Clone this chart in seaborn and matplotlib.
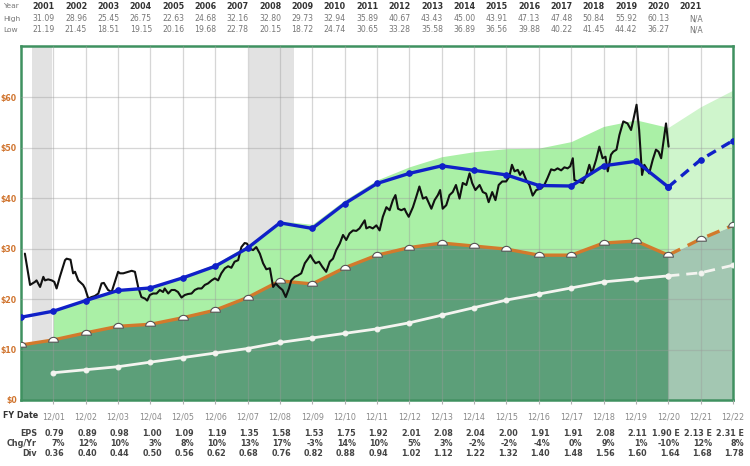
import numpy as np
import pandas as pd
import seaborn as sns
import matplotlib
matplotlib.use("Agg")
import matplotlib.pyplot as plt
from matplotlib import transforms
from matplotlib.path import Path

# ---------------- data ----------------
table_years = list(range(2001, 2022))
high = ["31.09", "28.96", "25.45", "26.75", "22.63", "24.68", "32.16", "32.80", "29.73", "32.94",
        "35.89", "40.67", "43.43", "45.00", "43.91", "47.13", "47.48", "50.84", "55.92", "60.13", "N/A"]
low = ["21.19", "21.45", "18.51", "19.15", "20.16", "19.68", "22.78", "20.15", "18.72", "24.74",
       "30.65", "33.28", "35.58", "36.89", "36.56", "39.88", "40.22", "41.45", "44.42", "36.27", "N/A"]

fy_years = list(range(2001, 2023))
fy_labels = ["12/01", "12/02", "12/03", "12/04", "12/05", "12/06", "12/07", "12/08", "12/09", "12/10", "12/11",
             "12/12", "12/13", "12/14", "12/15", "12/16", "12/17", "12/18", "12/19", "12/20", "12/21", "12/22"]
eps_txt = ["0.79", "0.89", "0.98", "1.00", "1.09", "1.19", "1.35", "1.58", "1.53", "1.75", "1.92",
           "2.01", "2.08", "2.04", "2.00", "1.91", "1.91", "2.08", "2.11", "1.90 E", "2.13 E", "2.31 E"]
chg_txt = ["7%", "12%", "10%", "3%", "8%", "10%", "13%", "17%", "-3%", "14%", "10%",
           "5%", "3%", "-2%", "-2%", "-4%", "0%", "9%", "1%", "-10%", "12%", "8%"]
div_txt = ["0.36", "0.40", "0.44", "0.50", "0.56", "0.62", "0.68", "0.76", "0.82", "0.88", "0.94",
           "1.02", "1.12", "1.22", "1.32", "1.40", "1.48", "1.56", "1.60", "1.64", "1.68", "1.78"]

# yearly series (x = fiscal year end, 2000..2022)
line_years = list(range(2000, 2023))
normal_pe = [16.4, 17.6, 19.7, 21.7, 22.2, 24.2, 26.5, 30.1, 35.1, 34.0, 38.9, 42.9,
             44.9, 46.4, 45.5, 44.6, 42.5, 42.4, 46.4, 47.3, 42.2, 47.6, 51.4]
eps_15 = [10.9, 11.9, 13.3, 14.6, 15.0, 16.3, 17.8, 20.3, 23.6, 23.0, 26.2, 28.7,
          30.2, 31.1, 30.5, 29.9, 28.7, 28.7, 31.1, 31.5, 28.7, 31.9, 34.6]
# years 2001..2022
upper_band = [17.8, 20.0, 22.0, 22.5, 24.5, 27.0, 30.7, 35.5, 34.8, 39.6, 43.6,
              46.2, 48.2, 49.2, 49.8, 49.9, 51.2, 54.2, 55.5, 54.0, 58.1, 61.4]
div_15 = [5.4, 6.0, 6.6, 7.5, 8.4, 9.3, 10.2, 11.4, 12.3, 13.2, 14.1,
          15.3, 16.8, 18.3, 19.8, 21.0, 22.2, 23.4, 24.0, 24.6, 25.2, 26.7]

price_x = [2000.12, 2000.28, 2000.43, 2000.48, 2000.59, 2000.69, 2000.74, 2000.84, 2000.95, 2001.03,
           2001.10, 2001.20, 2001.36, 2001.41, 2001.53, 2001.61, 2001.67, 2001.77, 2001.92, 2001.98,
           2002.08, 2002.18, 2002.28, 2002.39, 2002.49, 2002.56, 2002.69, 2002.80, 2002.90, 2003.00,
           2003.06, 2003.16, 2003.26, 2003.42, 2003.52, 2003.62, 2003.72, 2003.83, 2003.90, 2003.98,
           2004.08, 2004.19, 2004.29, 2004.39, 2004.44, 2004.55, 2004.65, 2004.75, 2004.85, 2004.96,
           2005.06, 2005.16, 2005.27, 2005.37, 2005.47, 2005.58, 2005.68, 2005.78, 2005.89, 2005.99,
           2006.09, 2006.19, 2006.30, 2006.40, 2006.50, 2006.60, 2006.71, 2006.81, 2006.91, 2006.98,
           2007.07, 2007.17, 2007.27, 2007.38, 2007.48, 2007.58, 2007.69, 2007.79, 2007.87, 2007.97,
           2008.08, 2008.18, 2008.28, 2008.35, 2008.46, 2008.56, 2008.66, 2008.77, 2008.87, 2008.94,
           2009.02, 2009.10, 2009.21, 2009.31, 2009.43, 2009.54, 2009.64, 2009.74, 2009.85, 2009.95,
           2010.05, 2010.15, 2010.26, 2010.36, 2010.46, 2010.62, 2010.67, 2010.77, 2010.87, 2010.98,
           2011.08, 2011.18, 2011.29, 2011.39, 2011.49, 2011.57, 2011.65, 2011.75, 2011.85, 2011.90,
           2011.98, 2012.11, 2012.21, 2012.31, 2012.42, 2012.52, 2012.68, 2012.78, 2012.88, 2012.95,
           2013.03, 2013.14, 2013.24, 2013.34, 2013.44, 2013.55, 2013.65, 2013.76, 2013.86, 2013.94,
           2014.04, 2014.17, 2014.27, 2014.37, 2014.45, 2014.56, 2014.66, 2014.76, 2014.87, 2014.99,
           2015.09, 2015.17, 2015.25, 2015.35, 2015.42, 2015.50, 2015.61, 2015.71, 2015.81, 2015.92,
           2016.07, 2016.17, 2016.27, 2016.38, 2016.48, 2016.58, 2016.69, 2016.79, 2016.89, 2016.97,
           2017.05, 2017.10, 2017.20, 2017.36, 2017.46, 2017.56, 2017.64, 2017.77, 2017.87, 2017.97,
           2018.06, 2018.13, 2018.23, 2018.30, 2018.40, 2018.49, 2018.61, 2018.74, 2018.85, 2018.92,
           2019.02, 2019.10, 2019.19, 2019.26, 2019.33, 2019.41, 2019.52, 2019.62, 2019.70, 2019.78,
           2019.93, 2020.01]
price_y = [29.0, 22.8, 23.4, 23.7, 22.4, 24.4, 23.7, 23.9, 23.7, 23.4,
           22.1, 24.4, 27.7, 28.0, 27.8, 25.1, 25.4, 23.7, 22.8, 22.1,
           20.1, 20.4, 20.6, 21.1, 23.1, 23.2, 21.8, 21.4, 23.4, 25.4,
           25.1, 25.1, 25.3, 25.6, 25.4, 22.4, 20.4, 20.1, 19.7, 20.8,
           21.1, 21.1, 21.8, 21.4, 22.1, 21.1, 21.8, 21.8, 21.4, 20.3,
           20.8, 21.0, 21.1, 21.8, 22.1, 22.1, 22.8, 23.1, 23.7, 24.1,
           23.7, 25.1, 26.1, 26.5, 26.2, 27.4, 27.7, 30.3, 31.1, 31.0,
           30.0, 29.7, 30.3, 29.0, 27.1, 25.9, 26.1, 22.4, 23.1, 22.4,
           21.8, 20.4, 22.1, 23.7, 24.4, 24.7, 25.1, 27.1, 28.0, 28.7,
           27.8, 27.1, 27.4, 26.4, 25.4, 27.4, 28.0, 29.7, 31.0, 32.7,
           31.7, 33.0, 33.6, 33.5, 34.0, 35.6, 34.0, 34.3, 34.0, 34.6,
           33.6, 36.3, 38.2, 37.6, 39.6, 40.6, 37.9, 37.6, 37.9, 37.2,
           36.3, 38.2, 40.2, 42.3, 39.9, 40.2, 37.9, 39.6, 40.6, 41.6,
           37.9, 38.6, 40.6, 41.2, 42.6, 39.9, 43.0, 42.6, 44.9, 43.0,
           41.6, 42.6, 41.2, 40.9, 39.2, 41.2, 39.6, 42.6, 43.3, 43.3,
           44.3, 46.6, 45.3, 45.6, 44.6, 45.3, 43.6, 42.6, 40.5, 41.6,
           41.9, 42.6, 44.0, 45.7, 45.5, 45.9, 45.5, 46.1, 45.9, 46.3,
           47.9, 43.6, 43.3, 43.0, 44.3, 46.6, 44.9, 47.6, 50.2, 47.9,
           48.2, 45.3, 48.6, 49.2, 49.6, 52.5, 55.2, 54.8, 53.5, 55.5,
           58.5, 53.5, 44.6, 46.6, 45.9, 44.9, 47.6, 49.6, 49.2, 47.9,
           54.8, 50.2]

recessions = [(2000.34, 2000.96), (2007.03, 2008.45)]
y_ticks = [0, 10, 20, 30, 40, 50, 60]
y_labels = ["$0", "$10", "$20", "$30", "$40", "$50", "$60"]

# ---------------- figure ----------------
sns.set_theme(style="white")
plt.rcParams["font.family"] = ["DejaVu Sans"]
W, H = 750, 466
fig = plt.figure(figsize=(W / 100, H / 100), dpi=100)
L, R, T, B = 21, 733, 45.7, 400
ax = fig.add_axes([L / W, 1 - B / H, (R - L) / W, (B - T) / H])

FC = 2020  # forecast start index helpers
iF = line_years.index(FC)
jF = fy_years.index(FC)

dark = "#5c9f79"
dark_f = "#a3c7b2"
light = "#aaf0a6"
light_f = "#cff5cc"

for a, b in recessions:
    ax.axvspan(a, b, color="#e2e2e2", zorder=0.5, lw=0)

# dark green (15x EPS) area
ax.fill_between(line_years[:iF + 1], 0, eps_15[:iF + 1], color=dark, lw=0, zorder=1.2)
ax.fill_between(line_years[iF:], 0, eps_15[iF:], color=dark_f, lw=0, zorder=1.2)
# light green band
o1 = eps_15[1:]
ax.fill_between(fy_years[:jF + 1], o1[:jF + 1], upper_band[:jF + 1], color=light, lw=0, zorder=1.1)
ax.fill_between(fy_years[jF:], o1[jF:], upper_band[jF:], color=light_f, lw=0, zorder=1.1)

# grid on top of fills
ax.set_axisbelow(False)
ax.grid(True, color="#9a9a9a", alpha=0.4, lw=0.9)

# semicircle marker
th = np.linspace(0, np.pi, 18)
verts = np.column_stack([np.cos(th), np.sin(th) - 0.35])
verts = np.vstack([verts, verts[:1]])
dome = Path(verts, closed=True)

df_line = pd.DataFrame({"x": line_years, "pe": normal_pe, "e15": eps_15})
df_fy = pd.DataFrame({"x": fy_years, "d15": div_15})
hist = df_line[df_line.x <= FC]
fcst = df_line[df_line.x >= FC]
hist_d = df_fy[df_fy.x <= FC]
fcst_d = df_fy[df_fy.x >= FC]

# white dividend line
sns.lineplot(data=hist_d, x="x", y="d15", ax=ax, color="#f4f4f0", lw=2, marker="o", ms=3.5,
             markeredgecolor="#f4f4f0", zorder=4)
sns.lineplot(data=fcst_d, x="x", y="d15", ax=ax, color="#f4f4f0", lw=2, ls=(0, (4, 2.5)), marker="o",
             ms=3.5, markeredgecolor="#f4f4f0", zorder=4)
# orange EPS line
sns.lineplot(data=hist, x="x", y="e15", ax=ax, color="#d27a2c", lw=2.4, zorder=4)
sns.lineplot(data=fcst, x="x", y="e15", ax=ax, color="#d27a2c", lw=2.4, ls=(0, (4, 2.5)), zorder=4)
ax.plot(line_years, eps_15, ls="none", marker=dome, ms=7, mfc="white", mec="#555555", mew=0.8, zorder=5)
# price
sns.lineplot(x=price_x, y=price_y, ax=ax, color="#111111", lw=1.5, zorder=6, sort=False)
# blue normal PE line
sns.lineplot(data=hist, x="x", y="pe", ax=ax, color="#1020c8", lw=2.4, marker="o", ms=4,
             markeredgecolor="#1020c8", zorder=7)
sns.lineplot(data=fcst, x="x", y="pe", ax=ax, color="#1020c8", lw=2.4, ls=(0, (3, 2)), marker="o", ms=4,
             markeredgecolor="#1020c8", zorder=7)

ax.set_xlim(2000, 2022)
ax.set_ylim(0, 70.2)
ax.set_xlabel("")
ax.set_ylabel("")

for s in ax.spines.values():
    s.set_color("#3f9160")
    s.set_linewidth(1.8)
    s.set_visible(True)

ax.set_yticks(y_ticks)
ax.set_yticklabels(y_labels, color="#d0742e", fontsize=5.6, fontweight="bold")
off = transforms.ScaledTranslation(0, 3.2 / 72, fig.dpi_scale_trans)
for lab in ax.get_yticklabels():
    lab.set_transform(lab.get_transform() + off)
ax.tick_params(axis="y", length=0, pad=3)

ax.set_xticks(fy_years)
ax.set_xticklabels(fy_labels, color="#8a8a8a", fontsize=5.8)
ax.tick_params(axis="x", length=3, color="#b0b0b0", direction="out", pad=6, width=0.8, bottom=True)

# ---------- text tables ----------
def fy(px):
    return 1 - px / H

tr_x = transforms.blended_transform_factory(ax.transData, fig.transFigure)

fig.text(3 / W, fy(415), "FY Date", fontsize=5.8, fontweight="bold", color="#333333", va="center")

# top table
fig.text(3 / W, fy(6.5), "Year", fontsize=5.4, color="#777777", va="center")
fig.text(3 / W, fy(18.5), "High", fontsize=5.4, color="#777777", va="center")
fig.text(3 / W, fy(30), "Low", fontsize=5.4, color="#777777", va="center")
for i, yr in enumerate(table_years):
    xc = yr - 0.3
    fig.text(0, 0, str(yr), transform=tr_x, fontsize=5.8, fontweight="bold", color="#333333",
             ha="center", va="center").set_position((xc, fy(6.5)))
    fig.text(0, 0, high[i], transform=tr_x, fontsize=5.6, color="#777777",
             ha="center", va="center").set_position((xc + (0.15 if high[i] == "N/A" else 0), fy(18.5)))
    fig.text(0, 0, low[i], transform=tr_x, fontsize=5.6, color="#777777",
             ha="center", va="center").set_position((xc + (0.15 if low[i] == "N/A" else 0), fy(30)))

# bottom table
rows = [("EPS", eps_txt, 434), ("Chg/Yr", chg_txt, 444), ("Div", div_txt, 454)]
for name, vals, ypx in rows:
    fig.text(37 / W, fy(ypx), name, fontsize=5.8, fontweight="bold", color="#444444", ha="right", va="center")
    for yr, v in zip(fy_years, vals):
        fig.text(0, 0, v, transform=tr_x, fontsize=5.8, fontweight="bold", color="#444444",
                 ha="right", va="center").set_position((yr + 0.35, fy(ypx)))

fig.savefig("out.png", dpi=100)
